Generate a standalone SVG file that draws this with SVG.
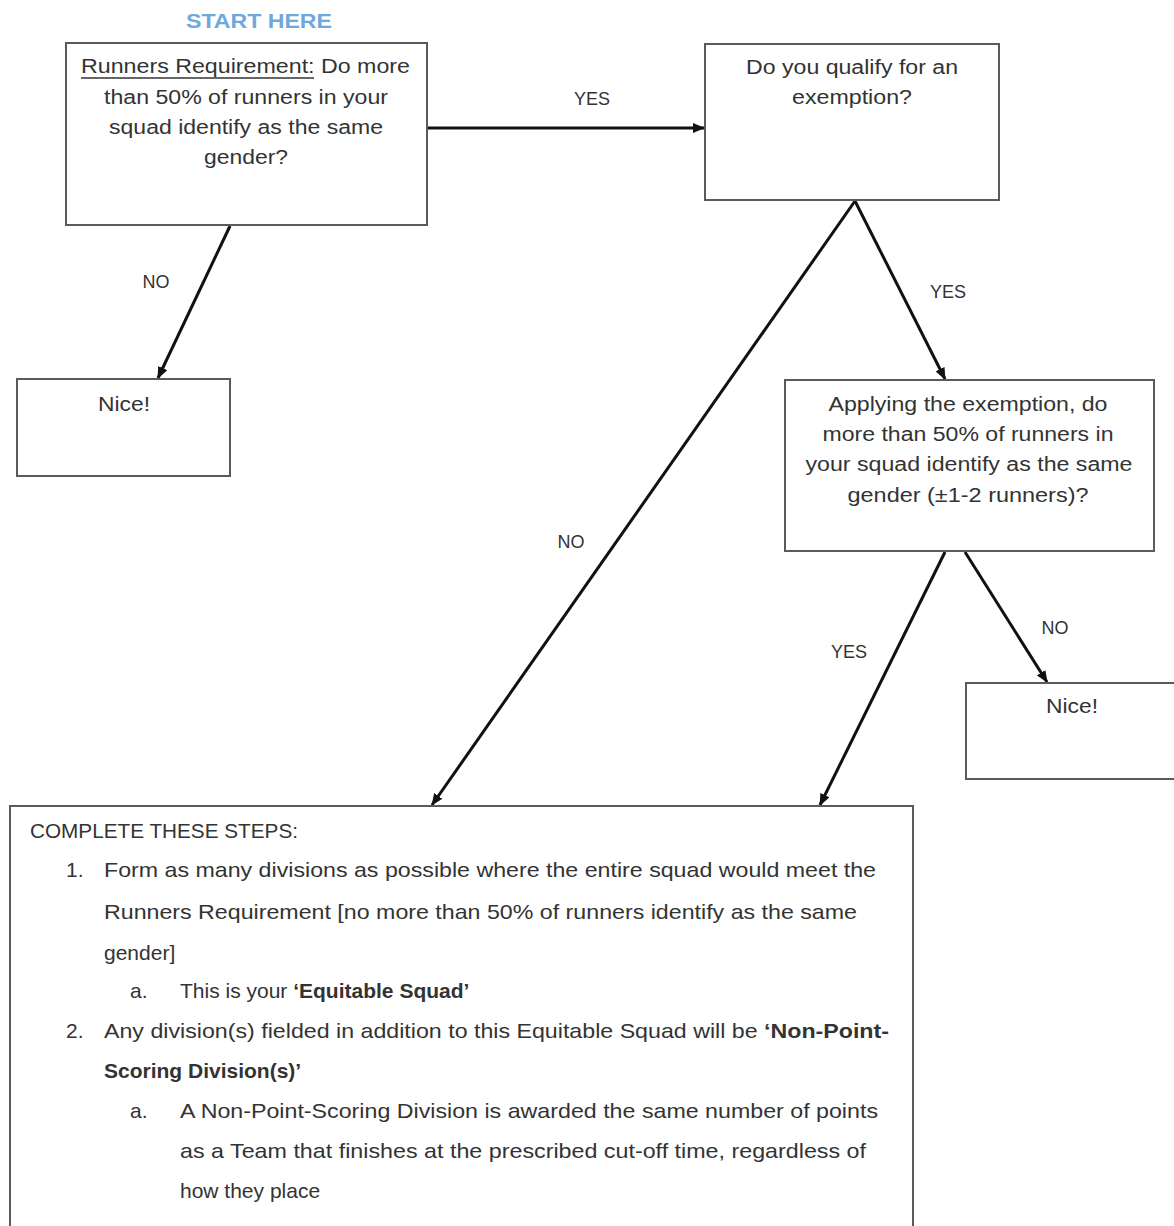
<svg xmlns="http://www.w3.org/2000/svg" width="1174" height="1226" viewBox="0 0 1174 1226">
<style>
.box{fill:#fff;stroke:#5a5a5a;stroke-width:2}
.t{font-family:"Liberation Sans",Arial,sans-serif;font-size:20px;fill:#333}
.s{font-size:21px}
.c{text-anchor:middle}
.b{font-weight:bold}
.lbl{font-family:"Liberation Sans",Arial,sans-serif;font-size:18px;fill:#333;text-anchor:middle}
.edge{stroke:#111;stroke-width:3;fill:none;marker-end:url(#ah)}
</style>
<defs>
<marker id="ah" markerUnits="userSpaceOnUse" markerWidth="12" markerHeight="10" refX="11" refY="5" orient="auto">
<path d="M0,0 L12,5 L0,10 z" fill="#111"/>
</marker>
</defs>
<rect width="1174" height="1226" fill="#fff"/>
<text x="259" y="28" class="t c b" style="fill:#6fa8dc;font-size:20px" textLength="146" lengthAdjust="spacingAndGlyphs">START HERE</text>
<g id="connectors">
<line class="edge" x1="427" y1="128" x2="704" y2="128"/>
<line class="edge" x1="230" y1="226" x2="158" y2="378"/>
<line class="edge" x1="855" y1="201" x2="945" y2="379"/>
<line class="edge" x1="855" y1="201" x2="432" y2="805"/>
<line class="edge" x1="945" y1="552" x2="820" y2="805"/>
<line class="edge" x1="965" y1="552" x2="1047" y2="682"/>
<text class="lbl" x="592" y="105">YES</text>
<text class="lbl" x="156" y="288">NO</text>
<text class="lbl" x="948" y="298">YES</text>
<text class="lbl" x="571" y="548">NO</text>
<text class="lbl" x="849" y="658">YES</text>
<text class="lbl" x="1055" y="634">NO</text>
</g>
<g id="n1">
<rect class="box" x="66" y="43" width="361" height="182"/>
<text class="t" x="81" y="73" textLength="329" lengthAdjust="spacingAndGlyphs">Runners Requirement: Do more</text>
<line x1="81" y1="78" x2="314" y2="78" stroke="#333" stroke-width="1.5"/>
<text class="t c" x="246" y="104" textLength="284" lengthAdjust="spacingAndGlyphs">than 50% of runners in your</text>
<text class="t c" x="246" y="134" textLength="274" lengthAdjust="spacingAndGlyphs">squad identify as the same</text>
<text class="t c" x="246" y="164" textLength="84" lengthAdjust="spacingAndGlyphs">gender?</text>
</g>
<g id="n2">
<rect class="box" x="705" y="44" width="294" height="156"/>
<text class="t c" x="852" y="74" textLength="212" lengthAdjust="spacingAndGlyphs">Do you qualify for an</text>
<text class="t c" x="852" y="104" textLength="120" lengthAdjust="spacingAndGlyphs">exemption?</text>
</g>
<g id="n3">
<rect class="box" x="17" y="379" width="213" height="97"/>
<text class="t c" x="124" y="411" textLength="52" lengthAdjust="spacingAndGlyphs">Nice!</text>
</g>
<g id="n4">
<rect class="box" x="785" y="380" width="369" height="171"/>
<text class="t c" x="968" y="411" textLength="279" lengthAdjust="spacingAndGlyphs">Applying the exemption, do</text>
<text class="t c" x="968" y="441" textLength="291" lengthAdjust="spacingAndGlyphs">more than 50% of runners in</text>
<text class="t c" x="969" y="471" textLength="327" lengthAdjust="spacingAndGlyphs">your squad identify as the same</text>
<text class="t c" x="968" y="502" textLength="241" lengthAdjust="spacingAndGlyphs">gender (±1-2 runners)?</text>
</g>
<g id="n5">
<rect class="box" x="966" y="683" width="220" height="96"/>
<text class="t c" x="1072" y="713" textLength="52" lengthAdjust="spacingAndGlyphs">Nice!</text>
</g>
<g id="n6">
<rect class="box" x="10" y="806" width="903" height="430"/>
<text class="t s" x="30" y="838" textLength="268" lengthAdjust="spacingAndGlyphs">COMPLETE THESE STEPS:</text>
<text class="t s" x="66" y="877">1.</text>
<text class="t s" x="104" y="877" textLength="772" lengthAdjust="spacingAndGlyphs">Form as many divisions as possible where the entire squad would meet the</text>
<text class="t s" x="104" y="919" textLength="753" lengthAdjust="spacingAndGlyphs">Runners Requirement [no more than 50% of runners identify as the same</text>
<text class="t s" x="104" y="960">gender]</text>
<text class="t s" x="130" y="998">a.</text>
<text class="t s" x="180" y="998">This is your <tspan class="b">‘Equitable Squad’</tspan></text>
<text class="t s" x="66" y="1038">2.</text>
<text class="t s" x="104" y="1038" textLength="785" lengthAdjust="spacingAndGlyphs">Any division(s) fielded in addition to this Equitable Squad will be <tspan class="b">‘Non-Point-</tspan></text>
<text class="t s b" x="104" y="1078">Scoring Division(s)’</text>
<text class="t s" x="130" y="1118">a.</text>
<text class="t s" x="180" y="1118" textLength="698" lengthAdjust="spacingAndGlyphs">A Non-Point-Scoring Division is awarded the same number of points</text>
<text class="t s" x="180" y="1158" textLength="686" lengthAdjust="spacingAndGlyphs">as a Team that finishes at the prescribed cut-off time, regardless of</text>
<text class="t s" x="180" y="1198">how they place</text>
</g>
</svg>
